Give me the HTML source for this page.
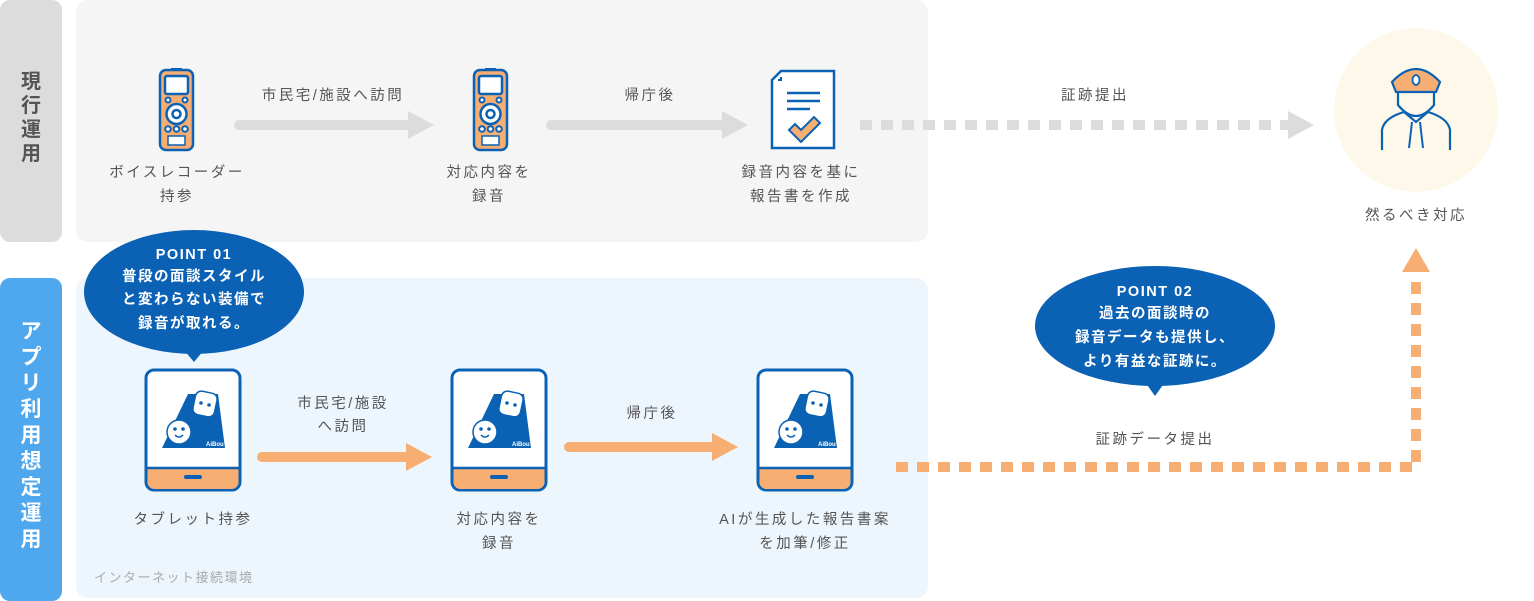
<!DOCTYPE html>
<html><head><meta charset="utf-8"><style>
html,body{margin:0;padding:0;background:#fff;}
svg{display:block;font-family:"Liberation Sans","Noto Sans CJK JP",sans-serif;}
.t{font-size:14.5px;fill:#555;letter-spacing:2.5px;text-anchor:middle;}
.w{font-size:14.5px;fill:#fff;font-weight:bold;letter-spacing:1.5px;text-anchor:middle;}
</style></head><body>
<svg width="1534" height="601" viewBox="0 0 1534 601">
<defs>
<g id="rec">
 <rect x="2" y="2" width="33" height="80" rx="6" fill="#f7ae72" stroke="#0b62b4" stroke-width="2.5"/>
 <rect x="13" y="0" width="11" height="3" fill="#0b62b4"/>
 <rect x="7" y="8" width="23" height="18" rx="2" fill="#fff" stroke="#0b62b4" stroke-width="2.5"/>
 <circle cx="10" cy="32" r="2.5" fill="#fff" stroke="#0b62b4" stroke-width="2"/>
 <circle cx="27" cy="32" r="2.5" fill="#fff" stroke="#0b62b4" stroke-width="2"/>
 <circle cx="18.5" cy="46" r="10" fill="#fff" stroke="#0b62b4" stroke-width="2.5"/>
 <circle cx="18.5" cy="46" r="4" fill="#fff" stroke="#0b62b4" stroke-width="2.5"/>
 <circle cx="10" cy="61" r="2.8" fill="#fff" stroke="#0b62b4" stroke-width="2"/>
 <circle cx="18.5" cy="61" r="2.8" fill="#fff" stroke="#0b62b4" stroke-width="2"/>
 <circle cx="27" cy="61" r="2.8" fill="#fff" stroke="#0b62b4" stroke-width="2"/>
 <rect x="10" y="68" width="17" height="9" fill="#fff" stroke="#0b62b4" stroke-width="1.5"/>
</g>
<g id="tab">
 <rect x="2" y="2" width="94" height="120" rx="8" fill="#fff" stroke="#0b62b4" stroke-width="3"/>
 <path d="M3.5 100 H94.5 V114 a7 7 0 0 1 -7 7 H10.5 a7 7 0 0 1 -7 -7Z" fill="#f7ae72"/>
 <line x1="3" y1="100" x2="95" y2="100" stroke="#0b62b4" stroke-width="2.5"/>
 <rect x="40" y="107" width="18" height="4" rx="2" fill="#0b62b4"/>
 <path d="M18 80 L44 26 L74 26 L81 80Z" fill="#0b62b4"/>
 <rect x="50" y="24" width="22" height="24" rx="6" fill="#fff" stroke="#0b62b4" stroke-width="1.5" transform="rotate(12 61 36)"/>
 <circle cx="57" cy="35" r="1.8" fill="#0b62b4"/><circle cx="65" cy="37" r="1.8" fill="#0b62b4"/>
 <circle cx="35" cy="64" r="12" fill="#fff" stroke="#0b62b4" stroke-width="1.5"/>
 <circle cx="31" cy="61" r="1.8" fill="#0b62b4"/><circle cx="39" cy="61" r="1.8" fill="#0b62b4"/>
 <path d="M31 67 q4 4 8 0" stroke="#0b62b4" stroke-width="1.5" fill="none"/>
 <text x="62" y="78" font-size="6" fill="#fff" font-weight="bold">AiBou</text>
</g>
</defs>
<rect x="0" y="0" width="62" height="242" rx="10" fill="#dcdcdc"/>
<text x="31" y="88" font-size="20" font-weight="bold" fill="#555" text-anchor="middle">
 <tspan x="31" dy="0">現</tspan><tspan x="31" dy="24">行</tspan><tspan x="31" dy="24">運</tspan><tspan x="31" dy="24">用</tspan></text>
<rect x="0" y="278" width="62" height="323" rx="10" fill="#4fa8ee"/>
<text x="31" y="338" font-size="21" font-weight="bold" fill="#fff" text-anchor="middle">
 <tspan x="31" dy="0">ア</tspan><tspan x="31" dy="26">プ</tspan><tspan x="31" dy="26">リ</tspan><tspan x="31" dy="26">利</tspan><tspan x="31" dy="26">用</tspan><tspan x="31" dy="26">想</tspan><tspan x="31" dy="26">定</tspan><tspan x="31" dy="26">運</tspan><tspan x="31" dy="26">用</tspan></text>
<rect x="76" y="0" width="852" height="242" rx="12" fill="#f5f5f5"/>
<rect x="76" y="278" width="852" height="320" rx="12" fill="#eef6fd"/>
<use href="#rec" x="158" y="68"/>
<use href="#rec" x="472" y="68"/>
<line x1="239" y1="125" x2="412" y2="125" stroke="#dcdcdc" stroke-width="10" stroke-linecap="round"/>
<polygon points="408,111 434,125 408,139" fill="#dcdcdc"/>
<line x1="551" y1="125" x2="726" y2="125" stroke="#dcdcdc" stroke-width="10" stroke-linecap="round"/>
<polygon points="722,111 748,125 722,139" fill="#dcdcdc"/>
<path d="M781 71 H834 V148 H772 V80Z" fill="#fff" stroke="#0b62b4" stroke-width="2.5"/>
<path d="M778 80 H781 V77" fill="none" stroke="#0b62b4" stroke-width="2"/>
<line x1="787" y1="93" x2="820" y2="93" stroke="#0b62b4" stroke-width="2.5"/>
<line x1="787" y1="101" x2="820" y2="101" stroke="#0b62b4" stroke-width="2.5"/>
<line x1="787" y1="109" x2="810" y2="109" stroke="#0b62b4" stroke-width="2.5"/>
<path d="M789 130 l6 -6 l6 6 l13 -13 l6 6 l-19 19Z" fill="#f7ae72" stroke="#0b62b4" stroke-width="2"/>
<line x1="860" y1="125" x2="1290" y2="125" stroke="#dcdcdc" stroke-width="10" stroke-dasharray="12,9"/>
<polygon points="1288,111 1314,125 1288,139" fill="#dcdcdc"/>
<text class="t" x="333" y="100">市民宅/施設へ訪問</text>
<text class="t" x="650" y="100">帰庁後</text>
<text class="t" x="1095" y="100">証跡提出</text>
<text class="t" x="177" y="177">ボイスレコーダー</text>
<text class="t" x="177" y="201">持参</text>
<text class="t" x="489" y="177">対応内容を</text>
<text class="t" x="489" y="201">録音</text>
<text class="t" x="801" y="177">録音内容を基に</text>
<text class="t" x="801" y="201">報告書を作成</text>
<circle cx="1416" cy="110" r="82" fill="#fdf8e9"/>
<path d="M1392 82 q24 -26 48 0 l-4 10 h-40Z" fill="#f7ae72" stroke="#0b62b4" stroke-width="2.2"/>
<ellipse cx="1416" cy="80" rx="3.5" ry="5" fill="#fff" stroke="#0b62b4" stroke-width="1.8"/>
<path d="M1398 93 v12 q18 22 36 0 v-12" fill="none" stroke="#0b62b4" stroke-width="2.2"/>
<path d="M1382 150 v-20 q2 -12 22 -18 l12 10 l12 -10 q20 6 22 18 v20" fill="none" stroke="#0b62b4" stroke-width="2.2"/>
<path d="M1412 122 l-3 26 M1420 122 l3 26" stroke="#0b62b4" stroke-width="2"/>
<text class="t" x="1416" y="220">然るべき対応</text>
<ellipse cx="194" cy="292" rx="110" ry="62" fill="#0b62b4"/>
<polygon points="184,350 204,350 194,362" fill="#0b62b4"/>
<text class="w" x="194" y="259" font-size="11.5" font-weight="normal">POINT 01</text>
<text class="w" x="194" y="281">普段の面談スタイル</text>
<text class="w" x="194" y="304">と変わらない装備で</text>
<text class="w" x="194" y="328">録音が取れる。</text>
<use href="#tab" x="144" y="368"/>
<use href="#tab" x="450" y="368"/>
<use href="#tab" x="756" y="368"/>
<line x1="262" y1="457" x2="410" y2="457" stroke="#f7ae72" stroke-width="10" stroke-linecap="round"/>
<polygon points="406,443 432,457 406,471" fill="#f7ae72"/>
<line x1="569" y1="447" x2="716" y2="447" stroke="#f7ae72" stroke-width="10" stroke-linecap="round"/>
<polygon points="712,433 738,447 712,461" fill="#f7ae72"/>
<text class="t" x="343" y="408">市民宅/施設</text>
<text class="t" x="343" y="431">へ訪問</text>
<text class="t" x="652" y="418">帰庁後</text>
<text class="t" x="193" y="524">タブレット持参</text>
<text class="t" x="499" y="524">対応内容を</text>
<text class="t" x="499" y="548">録音</text>
<text class="t" x="805" y="524">AIが生成した報告書案</text>
<text class="t" x="805" y="548">を加筆/修正</text>
<text x="94" y="582" font-size="13" fill="#aaa" letter-spacing="1.5">インターネット接続環境</text>
<path d="M896 467 H1416 V274" fill="none" stroke="#f7ae72" stroke-width="10" stroke-dasharray="12,9"/>
<polygon points="1402,272 1416,248 1430,272" fill="#f7ae72"/>
<ellipse cx="1155" cy="326" rx="120" ry="60" fill="#0b62b4"/>
<polygon points="1145,382 1165,382 1155,396" fill="#0b62b4"/>
<text class="w" x="1155" y="296" font-size="11.5" font-weight="normal">POINT 02</text>
<text class="w" x="1155" y="318">過去の面談時の</text>
<text class="w" x="1155" y="342">録音データも提供し、</text>
<text class="w" x="1155" y="366">より有益な証跡に。</text>
<text class="t" x="1155" y="444">証跡データ提出</text>
</svg>
</body></html>
